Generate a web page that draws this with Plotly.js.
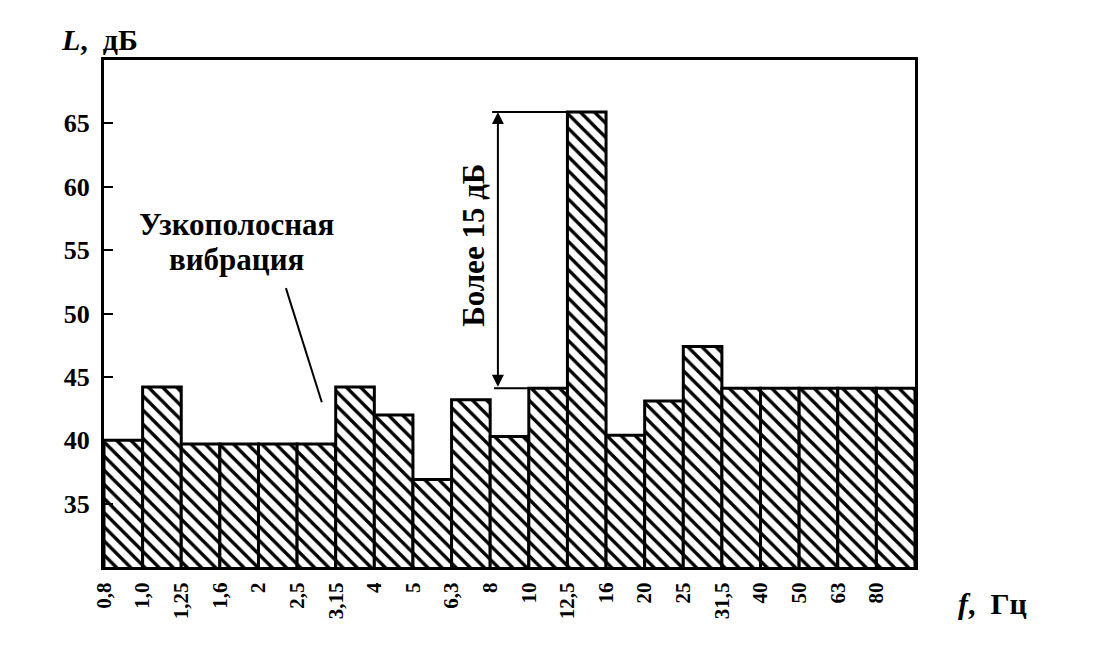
<!DOCTYPE html>
<html>
<head>
<meta charset="utf-8">
<script src="https://cdn.plot.ly/plotly-3.0.1.min.js"></script>
<style>html,body{margin:0;padding:0;background:#fff;}#chart{width:1108px;height:663px;}</style>
</head>
<body>
<div id="chart"></div>
<script>
// Third-octave band edge labels (Hz)
const bandLabels = ["0,8","1,0","1,25","1,6","2","2,5","3,15","4","5","6,3","8","10","12,5","16","20","25","31,5","40","50","63","80"];
// Level in each band (dB)
const levels = [40.0, 44.2, 39.7, 39.7, 39.7, 39.7, 44.2, 42.0, 36.9, 43.2, 40.3, 44.1, 65.9, 40.4, 43.1, 47.4, 44.1, 44.1, 44.1, 44.1, 44.1];
const yTicks = [35, 40, 45, 50, 55, 60, 65];
const peakIndex = 12;
const refLevel = 44.1;

const n = levels.length;
const centers = levels.map((_, i) => i + 0.5);
const edges = bandLabels.map((_, i) => i);
const peak = levels[peakIndex];

const serif = "Liberation Serif, Times New Roman, serif";
const bold = (size) => ({family: serif, size: size, color: "black", weight: "bold"});

const trace = {
  type: "bar",
  x: centers,
  y: levels,
  width: 1,
  marker: {
    color: "white",
    line: {color: "black", width: 3},
    pattern: {shape: "\\", size: 10, solidity: 0.34, fgcolor: "black", bgcolor: "white"}
  },
  hoverinfo: "skip"
};

const arrowX = peakIndex - 1.8;

const layout = {
  width: 1108, height: 663,
  margin: {l: 104, r: 193, t: 60, b: 96},
  paper_bgcolor: "white", plot_bgcolor: "white",
  showlegend: false,
  bargap: 0,
  font: {family: serif, color: "black", size: 22},
  xaxis: {
    range: [0, n],
    tickmode: "array",
    tickvals: edges,
    ticktext: bandLabels,
    tickangle: -90,
    ticks: "",
    showgrid: false, zeroline: false,
    showline: true, linecolor: "black", linewidth: 3, mirror: true,
    tickfont: bold(21),
    ticklabelstandoff: 4
  },
  yaxis: {
    range: [30, 70],
    tickmode: "array",
    tickvals: yTicks,
    ticks: "inside", ticklen: 9, tickwidth: 2, tickcolor: "black",
    showgrid: false, zeroline: false,
    showline: true, linecolor: "black", linewidth: 3, mirror: true,
    tickfont: bold(26),
    ticklabelstandoff: 6
  },
  shapes: [
    {type: "line", xref: "x", yref: "y", x0: arrowX - 0.15, x1: peakIndex, y0: peak, y1: peak, line: {color: "black", width: 2}},
    {type: "line", xref: "x", yref: "y", x0: arrowX - 0.1, x1: peakIndex - 1, y0: refLevel, y1: refLevel, line: {color: "black", width: 2}},
    {type: "line", xref: "x", yref: "y", x0: 4.71, y0: 52.0, x1: 5.64, y1: 43.0, line: {color: "black", width: 2}}
  ],
  annotations: [
    {xref: "x", yref: "y", x: arrowX, y: peak, ax: arrowX, ay: refLevel, axref: "x", ayref: "y",
     text: "", showarrow: true, arrowhead: 2, arrowside: "end+start", arrowsize: 1.2, arrowwidth: 2, arrowcolor: "black", standoff: 0, startstandoff: 0},
    {xref: "x", yref: "y", x: arrowX - 0.65, y: (peak + refLevel) / 2 + 0.4, text: "Более 15 дБ", textangle: -90,
     showarrow: false, font: bold(31)},
    {xref: "x", yref: "y", x: 3.44, y: 57.05, text: "Узкополосная", showarrow: false, font: bold(31), borderpad: 0},
    {xref: "x", yref: "y", x: 3.44, y: 54.3, text: "вибрация", showarrow: false, font: bold(31), borderpad: 0},
    {xref: "paper", yref: "paper", x: -0.055, y: 1.0, yshift: 2, xanchor: "left", yanchor: "bottom",
     text: "<i>L</i>,\u00a0 дБ", showarrow: false, font: bold(30)},
    {xref: "paper", yref: "paper", x: 1.05, y: -0.072, xanchor: "left", yanchor: "middle",
     text: "<i>f</i>,\u00a0 Гц", showarrow: false, font: bold(30)}
  ]
};

Plotly.newPlot("chart", [trace], layout, {displayModeBar: false, staticPlot: true});
</script>
</body>
</html>
